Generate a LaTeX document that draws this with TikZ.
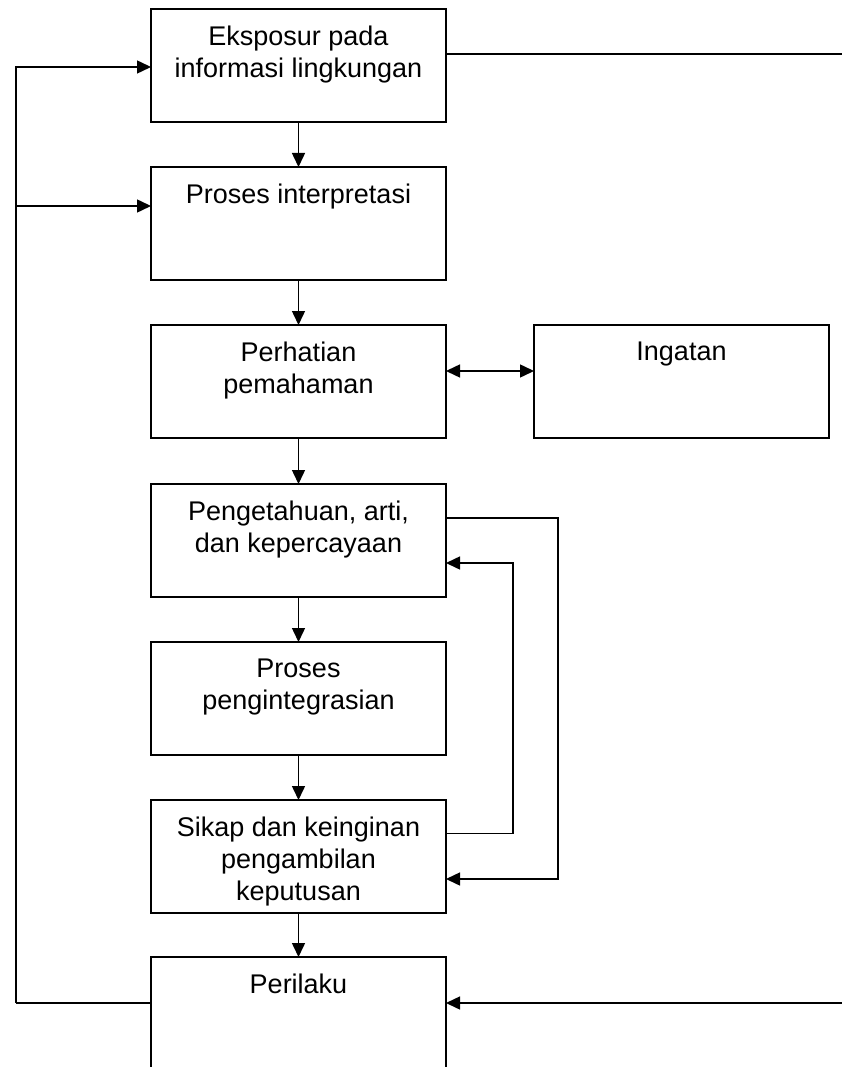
\documentclass[tikz,border=0pt]{standalone}
\usepackage{fontspec}
\setmainfont{Liberation Sans}
\usetikzlibrary{arrows.meta,calc}
\tikzset{
  box/.style={draw,line width=1.5pt,minimum width=295pt,minimum height=113pt,inner sep=0pt,outer sep=0pt},
  txt/.style={font=\fontsize{27}{32}\selectfont,align=center,anchor=north,inner sep=0pt},
  con/.style={line width=1.5pt},
  arr/.style={line width=1.5pt,-{Triangle[length=14pt,width=13pt]}},
  darr/.style={line width=1.5pt,{Triangle[length=14pt,width=13pt]}-{Triangle[length=14pt,width=13pt]}}
}
\begin{document}
\begin{tikzpicture}[x=1pt,y=-1pt]
\useasboundingbox (0,0) rectangle (842,1067);
\clip (0,0) rectangle (842,1067);
% boxes
\node[box] (b1) at (298.5,65.5) {};
\node[box] (b2) at (298.5,223.5) {};
\node[box] (b3) at (298.5,381.5) {};
\node[box] (ing) at (681.5,381.5) {};
\node[box] (b4) at (298.5,540.5) {};
\node[box] (b5) at (298.5,698.5) {};
\node[box] (b6) at (298.5,856.5) {};
\node[box,minimum height=140pt] (b7) at (298.5,1027) {};
% texts
\node[txt] (t1) at ([yshift=-16.5pt]b1.north) {Eksposur pada\\informasi lingkungan};
\node[txt] (t2) at ([yshift=-16.5pt]b2.north) {Proses interpretasi};
\node[txt] (t3) at ([yshift=-16.5pt]b3.north) {Perhatian\\pemahaman};
\node[txt] (ti) at ([yshift=-16.5pt]ing.north) {Ingatan};
\node[txt] (t4) at ([yshift=-16.5pt]b4.north) {Pengetahuan, arti,\\dan kepercayaan};
\node[txt] (t5) at ([yshift=-16.5pt]b5.north) {Proses\\pengintegrasian};
\node[txt] (t6) at ([yshift=-16.5pt]b6.north) {Sikap dan keinginan\\pengambilan\\keputusan};
\node[txt] (t7) at ([yshift=-16.5pt]b7.north) {Perilaku};
% vertical flow
\draw[arr] (b1) -- (b2);
\draw[arr] (b2) -- (b3);
\draw[arr] (b3) -- (b4);
\draw[arr] (b4) -- (b5);
\draw[arr] (b5) -- (b6);
\draw[arr] (b6.south) -- (b7.north);
% memory
\draw[darr] ([yshift=10.5pt]b3.east) -- ([yshift=10.5pt]ing.west);
% top right and bottom right
\coordinate (tr) at (842,54);
\draw[con] ([yshift=11.5pt]b1.east) -- (tr);
\coordinate (br) at (842,1003);
\draw[arr] (br) -- (b7.north east |- br);
% left feedback
\coordinate (L) at (16,1003);
\coordinate (a1) at ([yshift=-1.5pt]b1.west);
\coordinate (a2) at ([yshift=17.5pt]b2.west);
\draw[con] (b7.north west |- L) -- (L);
\draw[arr] (L) |- (a1);
\draw[arr] (a2 -| L) -- (a2);
% inner loops
\coordinate (o4) at ([yshift=22.5pt]b4.east);
\coordinate (i4) at ([yshift=-22.5pt]b4.east);
\coordinate (o6) at ([yshift=23pt]b6.east);
\coordinate (i6) at ([yshift=-22.5pt]b6.east);
\draw[arr] (o4) -- ++(112,0) |- (i6);
\draw[arr] (o6) -- ++(67,0) |- (i4);
\end{tikzpicture}
\end{document}
